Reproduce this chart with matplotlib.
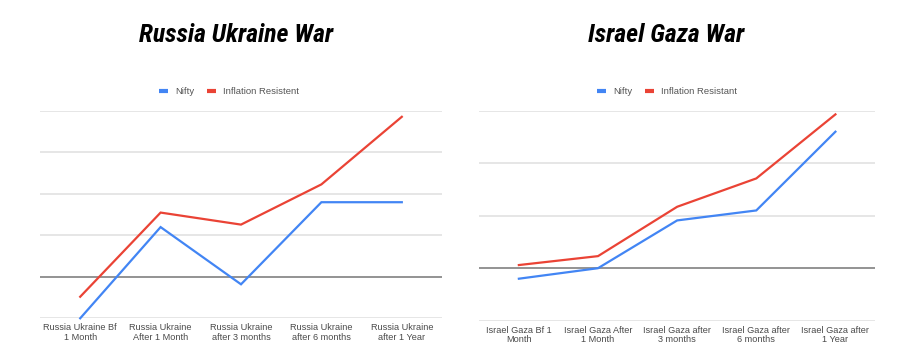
import matplotlib
matplotlib.use("Agg")
import matplotlib.pyplot as plt
from matplotlib.lines import Line2D

# ---- data ----
ru_categories = ["Russia Ukraine Bf\n1 Month", "Russia Ukraine\nAfter 1 Month",
                 "Russia Ukraine\nafter 3 months", "Russia Ukraine\nafter 6 months",
                 "Russia Ukraine\nafter 1 Year"]
ru_nifty = [-1.0, 1.2, -0.18, 1.8, 1.8]
ru_inflation = [-0.48, 1.55, 1.26, 2.23, 3.86]
ru_labels = ["Nifty", "Inflation Resistent"]
ru_grid = [-1, 0, 1, 2, 3, 4]

ig_categories = ["Israel Gaza Bf 1\nMonth", "Israel Gaza After\n1 Month",
                 "Israel Gaza after\n3 months", "Israel Gaza after\n6 months",
                 "Israel Gaza after\n1 Year"]
ig_nifty = [-0.2, 0.0, 0.91, 1.1, 2.6]
ig_inflation = [0.06, 0.23, 1.17, 1.71, 2.93]
ig_labels = ["Nifty", "Inflation Resistant"]
ig_grid = [-1, 0, 1, 2, 3]

titles = ["Russia Ukraine War", "Israel Gaza War"]

BLUE = "#4285f4"
RED = "#ea4335"

W, H = 905, 363
fig = plt.figure(figsize=(W / 100, H / 100), dpi=100)


def rect(x0, x1, ytop, ybot):
    return [x0 / W, 1 - ybot / H, (x1 - x0) / W, (ybot - ytop) / H]


def draw(ax, cats, nifty, infl, labels, grid, title, title_x, legend_x):
    x = list(range(len(cats)))
    ax.set_xlim(-0.5, len(cats) - 0.5)
    ax.set_ylim(grid[0], grid[-1])
    for g in grid:
        if g == 0:
            continue
        ax.axhline(g, color="#e2e2e2", lw=1.2, zorder=1)
    ax.axhline(0, color="#8a8a8a", lw=1.3, zorder=2)
    ax.plot(x, nifty, color=BLUE, lw=1.6, zorder=3, clip_on=False, solid_joinstyle="miter")
    ax.plot(x, infl, color=RED, lw=1.6, zorder=3, clip_on=False, solid_joinstyle="miter")
    for s in ax.spines.values():
        s.set_visible(False)
    ax.set_yticks([])
    ax.set_xticks(x)
    ax.set_xticklabels(cats, fontsize=6.6, color="#4a4a4a", family="Liberation Sans",
                       linespacing=1.05)
    ax.tick_params(axis="x", length=0, pad=3.5)
    handles = [Line2D([], [], color=BLUE, lw=3, solid_capstyle="butt"),
               Line2D([], [], color=RED, lw=3, solid_capstyle="butt")]
    fig.legend(handles, labels, loc="center",
               bbox_to_anchor=(legend_x / W, 1 - 92 / H),
               ncol=2, frameon=False, handlelength=0.95, handletextpad=0.7,
               columnspacing=1.4, prop={"family": "Liberation Sans", "size": 6.8},
               labelcolor="#555555")
    fig.text(title_x / W, 1 - 35 / H, title, ha="center", va="center",
             fontsize=18.5, fontweight="bold", fontstyle="italic",
             family=["Roboto Condensed", "Roboto"], color="black")


ax1 = fig.add_axes(rect(40, 442, 111, 318.3))
draw(ax1, ru_categories, ru_nifty, ru_inflation, ru_labels, ru_grid, titles[0], 236, 229)

ax2 = fig.add_axes(rect(479.3, 875, 110.7, 320.7))
draw(ax2, ig_categories, ig_nifty, ig_inflation, ig_labels, ig_grid, titles[1], 666, 667)

fig.savefig("out.png", dpi=100, facecolor="white")
